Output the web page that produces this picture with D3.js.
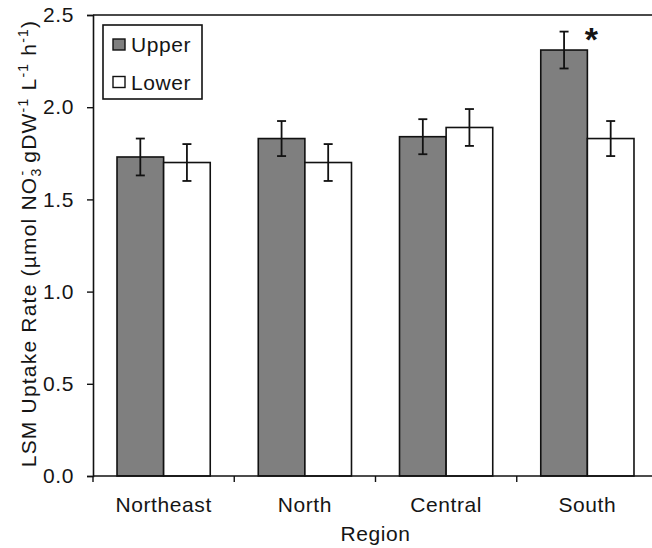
<!DOCTYPE html>
<html>
<head>
<meta charset="utf-8">
<script src="https://cdn.jsdelivr.net/npm/d3@7"></script>
<style>
  body { margin: 0; background: #fff; }
  svg text { font-family: "Liberation Sans", Arial, sans-serif; fill: #151515; }
</style>
</head>
<body>
<div id="chart"></div>
<script>
// values
var regions = ["Northeast", "North", "Central", "South"]
var series = ["Upper", "Lower"]
var upper = [1.73, 1.83, 1.84, 2.31]
var upperErr = [0.10, 0.095, 0.095, 0.10]
var lower = [1.70, 1.70, 1.89, 1.83]
var lowerErr = [0.10, 0.10, 0.10, 0.095]
var significant = [false, false, false, true]
var yTicks = [0, 0.5, 1.0, 1.5, 2.0, 2.5]

var colours = {Upper: "#7f7f7f", Lower: "#ffffff"}

var width = 652,
    height = 548
var margin = {top: 15, left: 93, bottom: 72}
var plotRight = 658   // plot runs a little past the picture edge
var plotBottom = height - margin.bottom

var svg = d3.select("#chart")
    .append("svg")
    .attr("width", width)
    .attr("height", height)

var x = d3.scaleBand()
    .domain(regions)
    .range([margin.left, plotRight])

var xInner = d3.scaleBand()
    .domain(series)
    .range([x.bandwidth() * 0.17, x.bandwidth() * 0.83])

var y = d3.scaleLinear()
    .domain([0, 2.5])
    .range([plotBottom, margin.top])

var rows = regions.map(function(r, i) {
    return {
        region: r,
        sig: significant[i],
        bars: [
            {key: "Upper", value: upper[i], err: upperErr[i]},
            {key: "Lower", value: lower[i], err: lowerErr[i]}
        ]
    }
})

// top frame line
svg.append("line")
    .attr("x1", margin.left).attr("x2", plotRight)
    .attr("y1", margin.top).attr("y2", margin.top)
    .attr("stroke", "#4a4a4a")
    .attr("stroke-width", 2)

// bars
var groups = svg.selectAll(".region")
    .data(rows)
    .enter()
    .append("g")
    .attr("class", "region")
    .attr("transform", function(d) { return "translate(" + x(d.region) + ",0)" })

groups.selectAll("rect")
    .data(function(d) { return d.bars })
    .enter()
    .append("rect")
    .attr("x", function(d) { return xInner(d.key) })
    .attr("y", function(d) { return y(d.value) })
    .attr("width", xInner.bandwidth())
    .attr("height", function(d) { return y(0) - y(d.value) })
    .attr("fill", function(d) { return colours[d.key] })
    .attr("stroke", "#111")
    .attr("stroke-width", 1.6)

// error bars
var capW = 4.5
var errs = groups.selectAll(".err")
    .data(function(d) { return d.bars })
    .enter()
    .append("g")
    .attr("class", "err")
    .attr("stroke", "#111")
    .attr("stroke-width", 1.8)

errs.append("line")
    .attr("x1", function(d) { return xInner(d.key) + xInner.bandwidth() / 2 })
    .attr("x2", function(d) { return xInner(d.key) + xInner.bandwidth() / 2 })
    .attr("y1", function(d) { return y(d.value + d.err) })
    .attr("y2", function(d) { return y(d.value - d.err) })

errs.selectAll(".cap")
    .data(function(d) { return [d.value + d.err, d.value - d.err].map(function(v) { return {key: d.key, v: v} }) })
    .enter()
    .append("line")
    .attr("class", "cap")
    .attr("x1", function(d) { return xInner(d.key) + xInner.bandwidth() / 2 - capW })
    .attr("x2", function(d) { return xInner(d.key) + xInner.bandwidth() / 2 + capW })
    .attr("y1", function(d) { return y(d.v) })
    .attr("y2", function(d) { return y(d.v) })

// significance star
groups.filter(function(d) { return d.sig })
    .append("text")
    .attr("x", xInner("Upper") + xInner.bandwidth() + 4)
    .attr("y", function(d) { return y(d.bars[0].value + d.bars[0].err) + 19 })
    .attr("text-anchor", "middle")
    .style("font-size", "34px")
    .style("font-weight", "bold")
    .text("*")

// y axis
var yAxis = svg.append("g")
    .attr("transform", "translate(" + margin.left + ",0)")
    .call(d3.axisLeft(y)
        .tickValues(yTicks)
        .tickFormat(d3.format(".1f"))
        .tickSize(6)
        .tickPadding(13))
yAxis.select(".domain").attr("stroke", "#111").attr("stroke-width", 1.6)
yAxis.selectAll(".tick line").attr("stroke", "#111").attr("stroke-width", 1.4)
yAxis.selectAll(".tick text")
    .style("font-size", "21px")
    .style("letter-spacing", "0.6px")
    .attr("fill", "#151515")

// x axis: ticks on band edges, labels at band centres
var xAxisG = svg.append("g")
    .attr("transform", "translate(0," + plotBottom + ")")
xAxisG.append("line")
    .attr("x1", margin.left).attr("x2", plotRight)
    .attr("stroke", "#111").attr("stroke-width", 1.6)
var edges = regions.map(function(r) { return x(r) }).concat([plotRight])
xAxisG.selectAll(".xtick")
    .data(edges)
    .enter()
    .append("line")
    .attr("class", "xtick")
    .attr("x1", function(d) { return d }).attr("x2", function(d) { return d })
    .attr("y1", 0).attr("y2", 6)
    .attr("stroke", "#111").attr("stroke-width", 1.4)
xAxisG.selectAll(".xlabel")
    .data(regions)
    .enter()
    .append("text")
    .attr("class", "xlabel")
    .attr("x", function(d) { return x(d) + x.bandwidth() / 2 })
    .attr("y", 36)
    .attr("text-anchor", "middle")
    .style("font-size", "21px")
    .style("letter-spacing", "0.6px")
    .text(function(d) { return d })

svg.append("text")
    .attr("x", (margin.left + plotRight) / 2)
    .attr("y", 541)
    .attr("text-anchor", "middle")
    .style("font-size", "21px")
    .style("letter-spacing", "0.6px")
    .text("Region")

// y title with sub/superscripts
var title = svg.append("text")
    .attr("transform", "translate(36," + ((margin.top + plotBottom) / 2 - 2) + ") rotate(-90)")
    .attr("text-anchor", "middle")
    .style("font-size", "21px")
    .style("letter-spacing", "1.2px")
title.append("tspan").text("LSM Uptake Rate (\u00b5mol NO")
title.append("tspan").attr("dy", 5).style("font-size", "14px").text("3")
title.append("tspan").attr("dx", -8).attr("dy", -14).style("font-size", "14px").text("-")
title.append("tspan").attr("dy", 9).text(" gDW")
title.append("tspan").attr("dy", -8).style("font-size", "14px").text("-1")
title.append("tspan").attr("dy", 8).text(" L")
title.append("tspan").attr("dy", -8).style("font-size", "14px").text("-1")
title.append("tspan").attr("dy", 8).text(" h")
title.append("tspan").attr("dy", -8).style("font-size", "14px").text("-1")
title.append("tspan").attr("dy", 8).text(")")

// legend
var legend = svg.append("g").attr("transform", "translate(103,25)")
legend.append("rect")
    .attr("width", 99).attr("height", 74)
    .attr("fill", "#fff")
    .attr("stroke", "#111").attr("stroke-width", 1.6)
var items = legend.selectAll(".item")
    .data(series)
    .enter()
    .append("g")
    .attr("class", "item")
    .attr("transform", function(d, i) { return "translate(10," + (14 + i * 37.5) + ")" })
items.append("rect")
    .attr("width", 12).attr("height", 11)
    .attr("fill", function(d) { return colours[d] })
    .attr("stroke", "#111").attr("stroke-width", 1.4)
items.append("text")
    .attr("x", 18).attr("y", 13)
    .style("font-size", "21px")
    .style("letter-spacing", "0.6px")
    .text(function(d) { return d })
</script>
</body>
</html>
